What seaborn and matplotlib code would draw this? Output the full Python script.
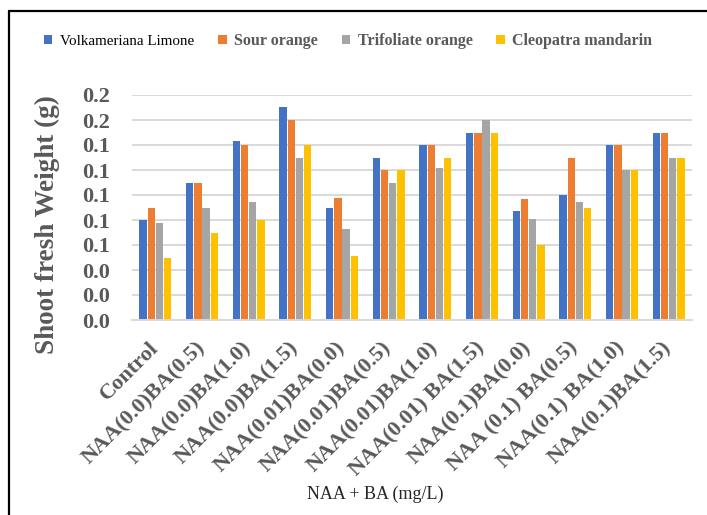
import numpy as np
import pandas as pd
import matplotlib
matplotlib.use("Agg")
import matplotlib.pyplot as plt
from matplotlib.lines import Line2D
import seaborn as sns

# Treatments (NAA + BA concentrations, mg/L)
treatments = [
    "Control", "NAA(0.0)BA(0.5)", "NAA(0.0)BA(1.0)", "NAA(0.0)BA(1.5)",
    "NAA(0.01)BA(0.0)", "NAA(0.01)BA(0.5)", "NAA(0.01)BA(1.0)", "NAA(0.01) BA(1.5)",
    "NAA(0.1)BA(0.0)", "NAA (0.1) BA(0.5)", "NAA(0.1) BA(1.0)", "NAA(0.1)BA(1.5)",
]

rootstocks = ["Volkameriana Limone", "Sour orange", "Trifoliate orange", "Cleopatra mandarin"]

# Shoot fresh weight (g) per rootstock
volkameriana = [0.080, 0.110, 0.143, 0.170, 0.090, 0.130, 0.140, 0.150, 0.0875, 0.100, 0.140, 0.150]
sour_orange = [0.090, 0.110, 0.140, 0.160, 0.098, 0.120, 0.140, 0.150, 0.0965, 0.130, 0.140, 0.150]
trifoliate = [0.078, 0.090, 0.0945, 0.130, 0.0725, 0.110, 0.122, 0.160, 0.081, 0.0945, 0.120, 0.130]
cleopatra = [0.050, 0.070, 0.080, 0.140, 0.0515, 0.120, 0.130, 0.150, 0.060, 0.090, 0.120, 0.130]

yticks = [0.00, 0.02, 0.04, 0.06, 0.08, 0.10, 0.12, 0.14, 0.16, 0.18]

palette = ["#4472C4", "#ED7D31", "#A5A5A5", "#FFC000"]

df = pd.DataFrame({
    "Treatment": treatments * 4,
    "Rootstock": np.repeat(rootstocks, len(treatments)),
    "Weight": volkameriana + sour_orange + trifoliate + cleopatra,
})

sns.set_theme(style="white")
plt.rcParams["font.family"] = ["Liberation Serif", "DejaVu Serif"]

W, H = 707, 515
fig = plt.figure(figsize=(W / 100, H / 100), dpi=100)
ax = fig.add_axes([132 / W, 1 - 320 / H, (692 - 132) / W, (320 - 95) / H])

sns.barplot(data=df, x="Treatment", y="Weight", hue="Rootstock",
            hue_order=rootstocks, order=treatments, palette=palette,
            saturation=1, width=0.7, gap=0.12, linewidth=0, errorbar=None, ax=ax)

ax.set_ylim(0, 0.18)
ax.set_xlim(-0.5, len(treatments) - 0.5)
ax.set_yticks(yticks)
ax.set_yticklabels([f"{v:.1f}" for v in yticks])
ax.yaxis.grid(True, color="#D9D9D9", linewidth=1.4)
ax.set_axisbelow(True)

for side in ["top", "right", "left"]:
    ax.spines[side].set_visible(False)
ax.spines["bottom"].set_color("#D9D9D9")
ax.spines["bottom"].set_linewidth(1.4)

ax.tick_params(axis="y", length=0, pad=16, labelsize=16, labelcolor="#595959")
for lab in ax.get_yticklabels():
    lab.set_fontweight("bold")

# category boundary ticks below the axis
ax.set_xticks(np.arange(-0.5, len(treatments)), minor=True)
ax.tick_params(axis="x", which="minor", length=6, width=1.4, color="#D9D9D9", direction="out")
ax.tick_params(axis="x", which="major", length=0, pad=18, labelsize=16, labelcolor="#595959")
for lab in ax.get_xticklabels():
    lab.set_rotation(45)
    lab.set_ha("right")
    lab.set_va("center")
    lab.set_rotation_mode("anchor")
    lab.set_fontweight("bold")

ax.set_ylabel("Shoot fresh Weight (g)", fontsize=19.5, fontweight="bold", color="#595959")
ax.yaxis.label.set_va("center")
ax.yaxis.set_label_coords((47 - 132) / 560, (320 - 225) / 225)

ax.set_xlabel("NAA + BA (mg/L)", fontsize=13, color="#262626")
ax.xaxis.label.set_va("center")
ax.xaxis.set_label_coords((375 - 132) / 560, (320 - 494) / 225)

handles, labels = ax.get_legend_handles_labels()
if ax.get_legend() is not None:
    ax.get_legend().remove()
leg = fig.legend(handles, labels, ncol=4, loc="center",
                 bbox_to_anchor=(348 / W, 1 - 41 / H), frameon=False,
                 fontsize=11.5, handlelength=0.55, handleheight=0.55,
                 handletextpad=0.45, columnspacing=1.5)
for i, t in enumerate(leg.get_texts()):
    if i == 0:
        t.set_color("black")
        t.set_fontsize(10.8)
    else:
        t.set_color("#595959")
        t.set_fontweight("bold")

# chart frame lines (left and top)
fig.add_artist(Line2D([9 / W, 9 / W], [0, 1 - 11 / H], transform=fig.transFigure,
                      color="black", linewidth=1.6))
fig.add_artist(Line2D([9 / W, 1], [1 - 11 / H, 1 - 11 / H], transform=fig.transFigure,
                      color="black", linewidth=1.6))

fig.savefig("out.png", dpi=100, facecolor="white")
